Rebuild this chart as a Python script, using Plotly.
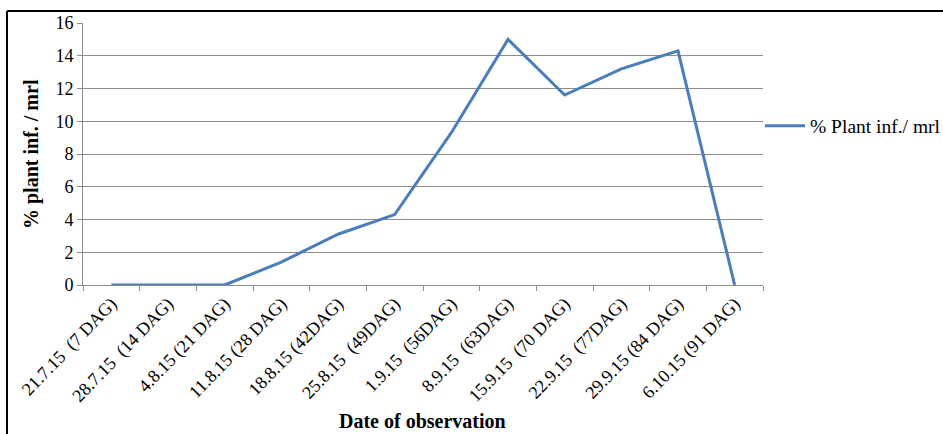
import plotly.graph_objects as go

NB = "\u00a0"
categories = [
    "21.7.15" + NB + NB + "(7 DAG)",
    "28.7.15" + NB + NB + "(14 DAG)",
    "4.8.15 (21 DAG)",
    "11.8.15 (28 DAG)",
    "18.8.15 (42DAG)",
    "25.8.15" + NB + NB + "(49DAG)",
    "1.9.15" + NB + NB + "(56DAG)",
    "8.9.15" + NB + NB + "(63DAG)",
    "15.9.15" + NB + NB + "(70 DAG)",
    "22.9.15" + NB + NB + "(77DAG)",
    "29.9.15 (84 DAG)",
    "6.10.15 (91 DAG)",
]
plant_inf = [0, 0, 0, 1.4, 3.1, 4.3, 9.3, 15.0, 11.6, 13.2, 14.3, 0]
series_name = "% Plant inf./ mrl"
y_title = "% plant inf. / mrl"
x_title = "Date of observation"

FONT = "Liberation Serif, Times New Roman, serif"
GRID = "#8c8c8c"

fig = go.Figure()
fig.add_trace(go.Scatter(
    x=categories, y=plant_inf, mode="lines", name=series_name,
    line=dict(color="#4a7ebb", width=3),
))

W, H = 943, 434
L, R, T, B = 83, 180, 23, 149
pw, ph = W - L - R, H - T - B

fig.update_layout(
    width=W, height=H,
    margin=dict(l=L, r=R, t=T, b=B, autoexpand=False),
    paper_bgcolor="white", plot_bgcolor="white",
    font=dict(family=FONT, size=16, color="black"),
    showlegend=True,
    legend=dict(x=(760 - L) / pw, y=(H - B - 126) / ph, xanchor="left", yanchor="middle",
                font=dict(family=FONT, size=19.5, color="black"), bgcolor="rgba(0,0,0,0)",
                itemwidth=40),
    xaxis=dict(
        type="category", tickson="boundaries", ticks="outside", ticklen=5,
        tickcolor=GRID, showline=True, linecolor=GRID, linewidth=1,
        showgrid=False, tickangle=-46, tickfont=dict(family=FONT, size=18),
        range=[-0.5, len(categories) - 0.5], automargin=False,
    ),
    yaxis=dict(
        range=[0, 16], dtick=2, ticks="outside", ticklen=5, tickcolor=GRID,
        showline=True, linecolor=GRID, linewidth=1,
        showgrid=True, gridcolor=GRID, gridwidth=1, zeroline=False,
        tickfont=dict(family=FONT, size=18), automargin=False,
    ),
    annotations=[
        dict(text="<b>" + y_title + "</b>", xref="paper", yref="paper",
             x=(31 - L) / pw, y=(H - B - 154) / ph, textangle=-90, showarrow=False,
             xanchor="center", yanchor="middle", font=dict(family=FONT, size=20)),
        dict(text="<b>" + x_title + "</b>", xref="paper", yref="paper",
             x=(422 - L) / pw, y=(H - B - 421) / ph, showarrow=False,
             xanchor="center", yanchor="middle", font=dict(family=FONT, size=20)),
    ],
    shapes=[
        dict(type="line", xref="paper", yref="paper",
             x0=(7 - L) / pw, x1=(7 - L) / pw, y0=(H - B - 11) / ph, y1=(H - B - 450) / ph,
             line=dict(color="black", width=2)),
        dict(type="line", xref="paper", yref="paper",
             x0=(7 - L) / pw, x1=(960 - L) / pw, y0=(H - B - 11) / ph, y1=(H - B - 11) / ph,
             line=dict(color="black", width=2)),
    ],
)

fig.write_html("out.html", config={"displayModeBar": False},
               post_script="document.body.style.margin='0';document.body.style.overflow='hidden';")
